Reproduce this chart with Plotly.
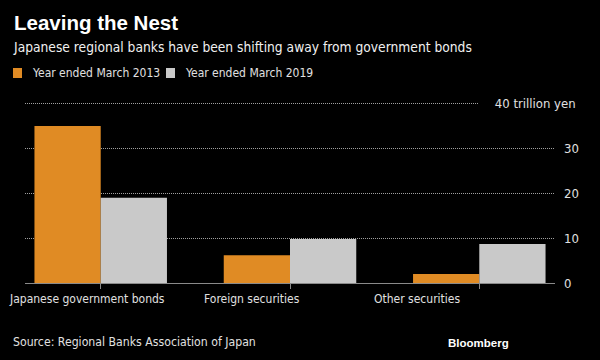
import plotly.graph_objects as go

categories = ["Japanese government bonds", "Foreign securities", "Other securities"]
series_names = ["Year ended March 2013", "Year ended March 2019"]
values_2013 = [35.0, 6.2, 2.0]
values_2019 = [19.0, 9.8, 8.7]
y_ticks = [0, 10, 20, 30]
y_ticktext = ["0", "10", "20", "30"]
top_label = "40 trillion yen"

ORANGE = "#E08B24"
GRAY = "#C9C9C9"
TEXT = "#E0E0E0"
FONT = "DejaVu Sans Condensed, Liberation Sans, Arial, sans-serif"
BOLD = "Liberation Sans, Arial, sans-serif"
colors = [ORANGE, GRAY]

idx = list(range(len(categories)))

ML, MR, MT, MB = 25, 45, 99, 77
W_plot = 600 - ML - MR
H_plot = 360 - MT - MB


def px(xp):
    return (xp - ML) / W_plot


def py(yp):
    return (360 - MB - yp) / H_plot


fig = go.Figure()
for name, vals, col in zip(series_names, [values_2013, values_2019], colors):
    fig.add_trace(go.Bar(x=idx, y=vals, name=name, marker_color=col, marker_line_width=0,
                         showlegend=False))

label_offsets = [-0.07, -0.2, -0.33]
for i, (c, off) in enumerate(zip(categories, label_offsets)):
    fig.add_annotation(x=i + off, y=0, xref="x", yref="y", text=c, showarrow=False,
                       yanchor="top", yshift=-7, font=dict(family=FONT, size=12, color=TEXT))

fig.add_annotation(x=px(578), y=40, xref="paper", yref="y", xanchor="right", yanchor="middle",
                   text="\u00a0\u00a0\u00a0\u00a0" + top_label, showarrow=False, bgcolor="#000000",
                   font=dict(family=FONT, size=13, color=TEXT))

# legend (swatch + label)
legend_x = [13, 166]
for lx, name, col in zip(legend_x, series_names, colors):
    fig.add_shape(type="rect", xref="paper", yref="paper", x0=px(lx), x1=px(lx + 9),
                  y0=py(78), y1=py(68), fillcolor=col, line_width=0)
    fig.add_annotation(text=name, x=px(lx + 17), y=py(73), xref="paper", yref="paper",
                       xanchor="left", yanchor="middle", showarrow=False,
                       font=dict(family=FONT, size=12, color=TEXT))

fig.add_annotation(text="<b>Leaving the Nest</b>", x=px(12), y=py(22), xref="paper", yref="paper",
                   xanchor="left", yanchor="middle", showarrow=False,
                   font=dict(family=BOLD, size=20.5, color="#FFFFFF"))
fig.add_annotation(text="Japanese regional banks have been shifting away from government bonds",
                   x=px(11), y=py(47), xref="paper", yref="paper", xanchor="left", yanchor="middle",
                   showarrow=False, font=dict(family=FONT, size=13.7, color="#F0F0F0"))
fig.add_annotation(text="Source: Regional Banks Association of Japan", x=px(11), y=py(342),
                   xref="paper", yref="paper", xanchor="left", yanchor="middle", showarrow=False,
                   font=dict(family=FONT, size=12.2, color=TEXT))
fig.add_annotation(text="<b>Bloomberg</b>", x=px(511), y=py(343), xref="paper", yref="paper",
                   xanchor="right", yanchor="middle", showarrow=False,
                   font=dict(family=BOLD, size=11.5, color="#FFFFFF"))

fig.update_layout(
    width=600, height=360,
    paper_bgcolor="#000000", plot_bgcolor="#000000",
    margin=dict(l=ML, r=MR, t=MT, b=MB, autoexpand=False),
    barmode="group", bargap=0.3, bargroupgap=0,
    showlegend=False,
    xaxis=dict(range=[-0.4, 2.4], tickvals=idx, showticklabels=False, ticks="outside", ticklen=5,
               tickcolor="#8a8a8a", showgrid=False, showline=True, linecolor="#8a8a8a", linewidth=1,
               zeroline=False, fixedrange=True, automargin=False),
    yaxis=dict(range=[0, 41], side="right", tickvals=y_ticks + [40], ticktext=y_ticktext + [""],
               showgrid=True, gridcolor="#a0a0a0", griddash="1px,1px", gridwidth=1, zeroline=False,
               ticks="", ticklabelstandoff=8, tickfont=dict(family=FONT, size=13, color=TEXT),
               showline=False, fixedrange=True, automargin=False),
)

fig.write_html("out.html", config={"displayModeBar": False},
               post_script="document.body.style.margin='0';document.body.style.background='#000';")
